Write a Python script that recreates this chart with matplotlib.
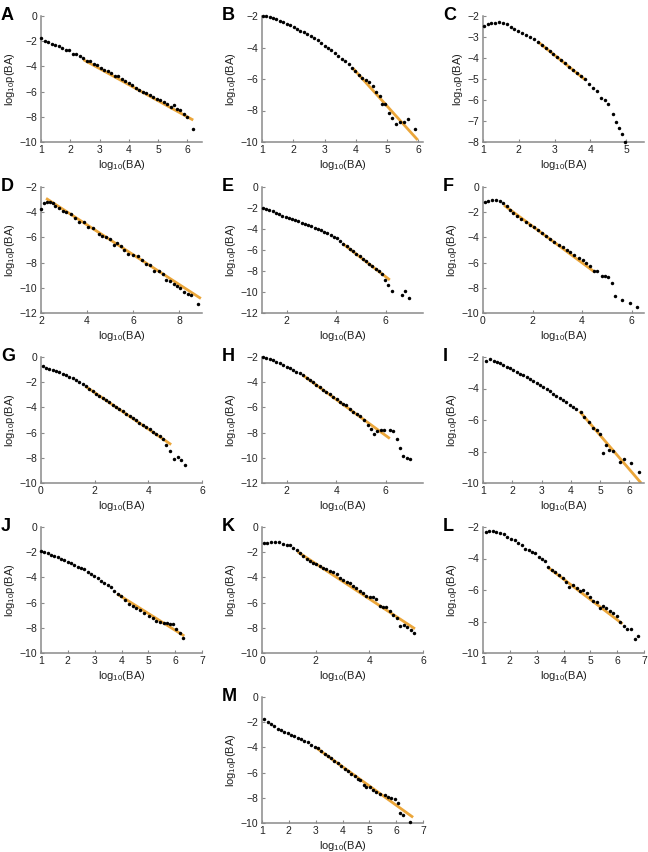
# Power-law fits of log10 p(BA) vs log10(BA), panels A-M
import matplotlib.pyplot as plt

plt.rcParams['font.family'] = ['Liberation Sans', 'DejaVu Sans']
plt.rcParams['mathtext.fontset'] = 'custom'
plt.rcParams['mathtext.rm'] = 'Liberation Sans'
plt.rcParams['mathtext.it'] = 'Liberation Sans:italic'

# data
A_x = [1.00, 1.12, 1.24, 1.36, 1.48, 1.60, 1.72, 1.84, 1.96, 2.08, 2.20, 2.32, 2.44, 2.56, 2.68, 2.80, 2.92, 3.04, 3.16, 3.28, 3.40, 3.52, 3.64, 3.76, 3.88, 4.00, 4.12, 4.24, 4.36, 4.48, 4.60, 4.72, 4.84, 4.96, 5.08, 5.20, 5.32, 5.44, 5.54, 5.64, 5.76, 5.88, 6.00, 6.18]
A_y = [-1.76, -1.95, -2.08, -2.2, -2.3, -2.42, -2.55, -2.7, -2.72, -2.98, -3.05, -3.18, -3.35, -3.55, -3.6, -3.78, -3.92, -4.12, -4.3, -4.35, -4.5, -4.8, -4.8, -4.98, -5.15, -5.35, -5.45, -5.7, -5.85, -6.0, -6.1, -6.25, -6.4, -6.6, -6.7, -6.85, -7.0, -7.2, -7.08, -7.38, -7.45, -7.8, -8.05, -8.95]
A_fit_x = [2.45, 6.2]
A_fit_y = [-3.47, -8.26]

B_x = [1.02, 1.13, 1.24, 1.35, 1.46, 1.57, 1.68, 1.79, 1.90, 2.01, 2.12, 2.23, 2.34, 2.45, 2.56, 2.67, 2.78, 2.89, 3.00, 3.11, 3.22, 3.33, 3.44, 3.55, 3.66, 3.77, 3.88, 3.99, 4.10, 4.21, 4.32, 4.43, 4.54, 4.65, 4.76, 4.85, 4.95, 5.06, 5.17, 5.29, 5.42, 5.55, 5.66, 5.90]
B_y = [-2.0, -2.02, -2.06, -2.12, -2.2, -2.29, -2.38, -2.48, -2.6, -2.72, -2.82, -2.93, -3.04, -3.15, -3.27, -3.4, -3.55, -3.72, -3.88, -4.02, -4.18, -4.35, -4.52, -4.7, -4.88, -5.06, -5.28, -5.5, -5.72, -5.92, -6.08, -6.22, -6.45, -6.8, -7.1, -7.6, -7.6, -8.15, -8.45, -8.85, -8.7, -8.75, -8.55, -9.15]
B_fit_x = [3.91, 5.98]
B_fit_y = [-5.32, -9.87]

C_x = [1.03, 1.13, 1.23, 1.34, 1.45, 1.56, 1.66, 1.77, 1.88, 1.99, 2.10, 2.21, 2.31, 2.42, 2.53, 2.64, 2.75, 2.86, 2.97, 3.08, 3.19, 3.30, 3.41, 3.52, 3.63, 3.74, 3.85, 3.96, 4.07, 4.20, 4.30, 4.40, 4.50, 4.62, 4.72, 4.80, 4.88, 4.98]
C_y = [-2.46, -2.38, -2.35, -2.32, -2.3, -2.33, -2.4, -2.5, -2.62, -2.72, -2.8, -2.9, -3.0, -3.1, -3.22, -3.36, -3.5, -3.65, -3.8, -3.95, -4.1, -4.25, -4.42, -4.58, -4.72, -4.86, -5.0, -5.25, -5.45, -5.58, -5.9, -6.02, -6.18, -6.65, -7.05, -7.35, -7.62, -7.98]
C_fit_x = [2.53, 3.85]
C_fit_y = [-3.22, -5.03]

D_x = [2.00, 2.12, 2.25, 2.38, 2.50, 2.62, 2.78, 2.94, 3.10, 3.30, 3.48, 3.64, 3.86, 4.03, 4.26, 4.51, 4.65, 4.84, 5.01, 5.16, 5.30, 5.48, 5.60, 5.78, 5.99, 6.20, 6.39, 6.57, 6.72, 6.93, 7.12, 7.30, 7.45, 7.62, 7.77, 7.91, 8.05, 8.20, 8.38, 8.52, 8.81]
D_y = [-3.75, -3.25, -3.2, -3.2, -3.28, -3.47, -3.68, -3.88, -4.0, -4.13, -4.45, -4.74, -4.8, -5.19, -5.27, -5.72, -5.85, -5.98, -6.12, -6.59, -6.43, -6.7, -6.99, -7.31, -7.39, -7.49, -7.76, -8.1, -8.23, -8.68, -8.63, -8.89, -9.42, -9.5, -9.69, -9.87, -10.05, -10.35, -10.48, -10.61, -11.3]
D_fit_x = [2.22, 8.95]
D_fit_y = [-2.9, -10.85]

E_x = [1.04, 1.17, 1.30, 1.43, 1.56, 1.69, 1.82, 1.95, 2.08, 2.21, 2.34, 2.47, 2.60, 2.73, 2.86, 2.99, 3.12, 3.25, 3.38, 3.51, 3.64, 3.77, 3.90, 4.03, 4.16, 4.29, 4.42, 4.55, 4.68, 4.81, 4.94, 5.07, 5.20, 5.33, 5.46, 5.59, 5.72, 5.85, 5.95, 6.07, 6.23, 6.65, 6.78, 6.94]
E_y = [-2.0, -2.05, -2.17, -2.32, -2.48, -2.6, -2.72, -2.83, -2.94, -3.04, -3.15, -3.27, -3.4, -3.52, -3.63, -3.75, -3.87, -4.0, -4.12, -4.25, -4.4, -4.55, -4.72, -4.9, -5.1, -5.42, -5.66, -5.88, -6.12, -6.35, -6.6, -6.83, -7.05, -7.3, -7.55, -7.8, -8.02, -8.3, -8.9, -9.3, -9.9, -10.3, -9.95, -10.6]
E_fit_x = [4.25, 6.16]
E_fit_y = [-5.38, -8.85]

F_x = [0.07, 0.22, 0.37, 0.52, 0.67, 0.82, 0.95, 1.08, 1.21, 1.38, 1.54, 1.72, 1.88, 2.05, 2.21, 2.39, 2.55, 2.72, 2.88, 3.06, 3.22, 3.39, 3.53, 3.69, 3.86, 4.02, 4.16, 4.33, 4.49, 4.62, 4.80, 4.92, 5.05, 5.19, 5.32, 5.63, 5.93, 6.21]
F_y = [-1.2, -1.08, -1.02, -1.02, -1.08, -1.25, -1.5, -1.8, -2.1, -2.32, -2.53, -2.78, -2.98, -3.19, -3.42, -3.64, -3.85, -4.1, -4.33, -4.58, -4.78, -4.99, -5.18, -5.4, -5.62, -5.8, -6.0, -6.3, -6.64, -6.69, -7.03, -7.03, -7.17, -7.64, -8.62, -8.94, -9.2, -9.5]
F_fit_x = [0.85, 4.5]
F_fit_y = [-1.45, -6.74]

G_x = [0.06, 0.19, 0.31, 0.43, 0.56, 0.68, 0.81, 0.93, 1.06, 1.18, 1.30, 1.43, 1.55, 1.68, 1.80, 1.92, 2.05, 2.17, 2.30, 2.42, 2.55, 2.67, 2.80, 2.92, 3.05, 3.17, 3.30, 3.42, 3.55, 3.67, 3.80, 3.92, 4.05, 4.17, 4.30, 4.42, 4.55, 4.67, 4.82, 4.97, 5.10, 5.23, 5.35]
G_y = [-0.75, -0.85, -0.94, -1.04, -1.13, -1.23, -1.35, -1.46, -1.57, -1.7, -1.84, -2.0, -2.16, -2.33, -2.52, -2.72, -2.9, -3.07, -3.25, -3.42, -3.6, -3.77, -3.95, -4.12, -4.32, -4.5, -4.68, -4.85, -5.02, -5.2, -5.38, -5.55, -5.75, -5.92, -6.1, -6.3, -6.5, -6.95, -7.46, -8.09, -7.91, -8.17, -8.61]
G_fit_x = [1.65, 4.85]
G_fit_y = [-2.32, -6.95]

H_x = [1.04, 1.18, 1.31, 1.45, 1.58, 1.72, 1.85, 1.99, 2.12, 2.26, 2.39, 2.53, 2.66, 2.80, 2.93, 3.06, 3.20, 3.33, 3.47, 3.60, 3.74, 3.87, 4.01, 4.14, 4.28, 4.41, 4.55, 4.68, 4.83, 4.97, 5.12, 5.26, 5.39, 5.53, 5.66, 5.80, 5.93, 6.16, 6.30, 6.44, 6.58, 6.70, 6.84, 6.97]
H_y = [-2.0, -2.05, -2.13, -2.26, -2.4, -2.5, -2.63, -2.77, -2.9, -3.03, -3.16, -3.3, -3.46, -3.64, -3.8, -4.01, -4.2, -4.41, -4.59, -4.78, -4.94, -5.15, -5.31, -5.57, -5.7, -5.84, -6.15, -6.37, -6.5, -6.68, -7.03, -7.37, -7.69, -8.08, -7.9, -7.82, -7.76, -7.76, -7.9, -8.52, -9.25, -9.83, -9.99, -10.09]
H_fit_x = [2.66, 6.16]
H_fit_y = [-3.46, -8.47]

I_x = [1.09, 1.23, 1.36, 1.48, 1.59, 1.70, 1.81, 1.93, 2.04, 2.15, 2.27, 2.38, 2.49, 2.61, 2.72, 2.83, 2.95, 3.06, 3.17, 3.29, 3.40, 3.51, 3.62, 3.74, 3.85, 3.96, 4.08, 4.19, 4.34, 4.45, 4.62, 4.76, 4.88, 5.00, 5.11, 5.21, 5.32, 5.45, 5.69, 5.83, 6.07, 6.32]
I_y = [-2.25, -2.15, -2.25, -2.32, -2.4, -2.48, -2.61, -2.72, -2.82, -2.93, -3.05, -3.16, -3.28, -3.41, -3.52, -3.62, -3.75, -3.89, -4.02, -4.15, -4.32, -4.46, -4.59, -4.74, -4.88, -5.05, -5.2, -5.33, -5.52, -5.8, -6.12, -6.48, -6.62, -6.89, -8.09, -7.58, -7.89, -7.99, -8.69, -8.49, -8.76, -9.27]
I_fit_x = [4.3, 6.4]
I_fit_y = [-5.45, -10.0]

J_x = [1.00, 1.12, 1.25, 1.37, 1.50, 1.62, 1.75, 1.87, 1.99, 2.12, 2.24, 2.37, 2.49, 2.61, 2.74, 2.86, 2.99, 3.11, 3.24, 3.36, 3.49, 3.61, 3.73, 3.86, 3.98, 4.14, 4.29, 4.42, 4.55, 4.70, 4.85, 5.01, 5.16, 5.30, 5.45, 5.57, 5.70, 5.82, 5.92, 6.04, 6.17, 6.29]
J_y = [-1.89, -1.99, -2.1, -2.2, -2.31, -2.41, -2.52, -2.62, -2.76, -2.86, -2.99, -3.18, -3.23, -3.36, -3.54, -3.73, -3.88, -4.07, -4.25, -4.41, -4.62, -4.8, -5.04, -5.33, -5.51, -5.8, -6.09, -6.25, -6.43, -6.59, -6.82, -7.03, -7.24, -7.43, -7.52, -7.6, -7.65, -7.73, -7.73, -8.08, -8.45, -8.8]
J_fit_x = [3.83, 6.34]
J_fit_y = [-5.3, -8.65]

K_x = [0.06, 0.19, 0.33, 0.48, 0.62, 0.77, 0.92, 1.04, 1.16, 1.29, 1.41, 1.54, 1.66, 1.78, 1.91, 2.03, 2.16, 2.28, 2.40, 2.53, 2.65, 2.78, 2.90, 3.02, 3.15, 3.27, 3.40, 3.52, 3.64, 3.77, 3.89, 4.01, 4.14, 4.26, 4.39, 4.51, 4.63, 4.76, 4.88, 5.04, 5.13, 5.29, 5.42, 5.54, 5.66]
K_y = [-1.26, -1.26, -1.18, -1.18, -1.21, -1.32, -1.45, -1.45, -1.66, -1.84, -2.1, -2.32, -2.5, -2.66, -2.82, -2.97, -3.1, -3.24, -3.34, -3.5, -3.6, -3.76, -4.08, -4.21, -4.34, -4.47, -4.66, -4.87, -5.05, -5.26, -5.47, -5.53, -5.53, -5.74, -6.24, -6.32, -6.32, -6.66, -6.97, -7.24, -7.82, -7.74, -7.95, -8.15, -8.41]
K_fit_x = [1.33, 5.7]
K_fit_y = [-1.97, -8.08]

L_x = [1.10, 1.22, 1.37, 1.50, 1.62, 1.77, 1.90, 2.05, 2.18, 2.30, 2.45, 2.57, 2.70, 2.82, 2.94, 3.07, 3.19, 3.31, 3.44, 3.56, 3.70, 3.85, 3.97, 4.09, 4.22, 4.34, 4.49, 4.61, 4.74, 4.86, 4.99, 5.11, 5.23, 5.36, 5.48, 5.60, 5.73, 5.85, 5.98, 6.10, 6.26, 6.38, 6.51, 6.66, 6.78]
L_y = [-2.32, -2.27, -2.23, -2.29, -2.36, -2.42, -2.63, -2.74, -2.84, -2.99, -3.16, -3.37, -3.47, -3.58, -3.68, -3.89, -4.0, -4.17, -4.53, -4.74, -4.84, -5.05, -5.22, -5.47, -5.79, -5.68, -5.89, -6.04, -6.0, -6.21, -6.42, -6.69, -6.78, -7.12, -6.99, -7.16, -7.31, -7.47, -7.68, -8.0, -8.27, -8.48, -8.48, -9.09, -8.9]
L_fit_x = [3.45, 6.2]
L_fit_y = [-4.6, -8.15]

M_x = [1.09, 1.21, 1.34, 1.46, 1.59, 1.71, 1.83, 1.96, 2.08, 2.21, 2.33, 2.46, 2.58, 2.71, 2.83, 2.96, 3.08, 3.20, 3.33, 3.45, 3.58, 3.70, 3.83, 3.95, 4.08, 4.20, 4.33, 4.45, 4.57, 4.67, 4.80, 4.89, 5.01, 5.13, 5.26, 5.38, 5.57, 5.69, 5.82, 5.94, 6.07, 6.13, 6.26, 6.53]
M_y = [-1.78, -1.99, -2.18, -2.33, -2.52, -2.65, -2.79, -2.86, -3.02, -3.13, -3.24, -3.37, -3.5, -3.61, -3.77, -3.93, -4.08, -4.3, -4.51, -4.67, -4.83, -5.04, -5.25, -5.46, -5.68, -5.86, -6.1, -6.29, -6.5, -6.58, -6.95, -7.16, -7.16, -7.37, -7.56, -7.72, -7.75, -7.9, -8.04, -8.09, -8.44, -9.23, -9.36, -9.95]
M_fit_x = [3.02, 6.63]
M_fit_y = [-4.03, -9.55]

# letter, data, fit, xlim, ylim, xticks, yticks, column, row
panels = [
    ('A', A_x, A_y, A_fit_x, A_fit_y, (1, 6.5), (-10, 0), [1, 2, 3, 4, 5, 6], range(-10, 1, 2), 0, 0),
    ('B', B_x, B_y, B_fit_x, B_fit_y, (1, 6.15), (-10, -2), [1, 2, 3, 4, 5, 6], range(-10, -1, 2), 1, 0),
    ('C', C_x, C_y, C_fit_x, C_fit_y, (1, 5.5), (-8, -2), [1, 2, 3, 4, 5], range(-8, -1, 1), 2, 0),
    ('D', D_x, D_y, D_fit_x, D_fit_y, (2, 9), (-12, -2), [2, 4, 6, 8], range(-12, -1, 2), 0, 1),
    ('E', E_x, E_y, E_fit_x, E_fit_y, (1, 7.5), (-12, 0), [2, 4, 6], range(-12, 1, 2), 1, 1),
    ('F', F_x, F_y, F_fit_x, F_fit_y, (0, 6.5), (-10, 0), [0, 2, 4, 6], range(-10, 1, 2), 2, 1),
    ('G', G_x, G_y, G_fit_x, G_fit_y, (0, 6), (-10, 0), [0, 2, 4, 6], range(-10, 1, 2), 0, 2),
    ('H', H_x, H_y, H_fit_x, H_fit_y, (1, 7.5), (-12, -2), [2, 4, 6], range(-12, -1, 2), 1, 2),
    ('I', I_x, I_y, I_fit_x, I_fit_y, (1, 6.5), (-10, -2), [1, 2, 3, 4, 5, 6], range(-10, -1, 2), 2, 2),
    ('J', J_x, J_y, J_fit_x, J_fit_y, (1, 7), (-10, 0), [1, 2, 3, 4, 5, 6, 7], range(-10, 1, 2), 0, 3),
    ('K', K_x, K_y, K_fit_x, K_fit_y, (0, 6), (-10, 0), [0, 2, 4, 6], range(-10, 1, 2), 1, 3),
    ('L', L_x, L_y, L_fit_x, L_fit_y, (1, 7), (-10, -2), [1, 2, 3, 4, 5, 6, 7], range(-10, -1, 2), 2, 3),
    ('M', M_x, M_y, M_fit_x, M_fit_y, (1, 7), (-10, 0), [1, 2, 3, 4, 5, 6, 7], range(-10, 1, 2), 1, 4),
]

W, H = 648, 852
col_left = [41, 262, 483]
row_top = [16, 187, 357, 527, 697]
ax_w, ax_h = 161, 126

fig = plt.figure(figsize=(W / 100, H / 100), dpi=100)

for letter, x, y, fx, fy, xl, yl, xt, yt, c, r in panels:
    left = col_left[c]
    top = row_top[r]
    ax = fig.add_axes([left / W, 1 - (top + ax_h) / H, ax_w / W, ax_h / H])

    # fitted line under the binned points
    ax.plot(fx, fy, color='#EBA63A', lw=2.0, solid_capstyle='butt', zorder=2)
    ax.plot(x, y, 'o', color='black', ms=2.5, mew=0, zorder=3, clip_on=False)

    ax.set_xlim(xl)
    ax.set_ylim(yl)
    ax.set_xticks(xt)
    ax.set_yticks(list(yt))

    for s in ['top', 'right']:
        ax.spines[s].set_visible(False)
    for s in ['left', 'bottom']:
        ax.spines[s].set_color('#8a8a8a')
        ax.spines[s].set_linewidth(1.1)
    ax.tick_params(direction='in', length=2.5, width=0.8, color='#8a8a8a',
                   labelsize=7.5, labelcolor='#222222', pad=2.5)

    ax.set_xlabel('log$_{10}$(BA)', fontsize=8, color='#222222', labelpad=2)
    ax.set_ylabel('log$_{10}$p(BA)', fontsize=8, color='#222222', labelpad=2)

    fig.text((left - 40) / W, 1 - (top - 9) / H, letter, fontsize=13,
             fontweight='bold', ha='left', va='top')

fig.savefig('out.png', dpi=100)
